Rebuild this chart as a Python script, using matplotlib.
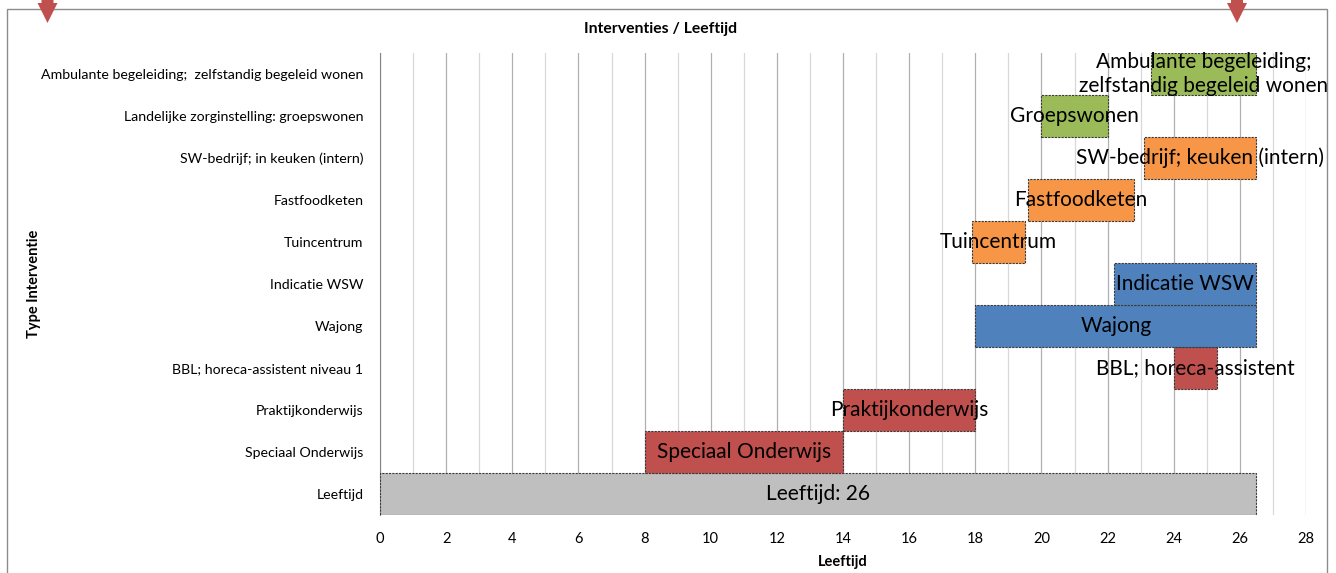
import matplotlib
matplotlib.use("Agg")
import matplotlib.pyplot as plt
from matplotlib.patches import Rectangle, Polygon

plt.rcParams['font.family'] = ['Lato', 'DejaVu Sans']

# interventies, van onder naar boven
categories = ['Leeftijd', 'Speciaal Onderwijs', 'Praktijkonderwijs',
              'BBL; horeca-assistent niveau 1', 'Wajong', 'Indicatie WSW',
              'Tuincentrum', 'Fastfoodketen', 'SW-bedrijf; in keuken (intern)',
              'Landelijke zorginstelling: groepswonen',
              'Ambulante begeleiding;  zelfstandig begeleid wonen']
start = [0, 8, 14, 24, 18, 22.2, 17.9, 19.6, 23.1, 20, 23.3]
end = [26.5, 14, 18, 25.3, 26.5, 26.5, 19.5, 22.8, 26.5, 22, 26.5]
bar_labels = ['Leeftijd: 26', 'Speciaal Onderwijs', 'Praktijkonderwijs',
              'BBL; horeca-assistent', 'Wajong', 'Indicatie WSW',
              'Tuincentrum', 'Fastfoodketen', 'SW-bedrijf; keuken (intern)',
              'Groepswonen', 'Ambulante begeleiding;\nzelfstandig begeleid wonen']
colors = ['#bfbfbf', '#c0504d', '#c0504d', '#c0504d', '#4f81bd', '#4f81bd',
          '#f79646', '#f79646', '#f79646', '#9bbb59', '#9bbb59']

fig = plt.figure(figsize=(13.36, 5.73), dpi=100)
ax = fig.add_axes([380/1336, 1-515/573, 926/1336, 462/573])

widths = [e - s for s, e in zip(start, end)]
ypos = list(range(len(categories)))
ax.barh(ypos, widths, left=start, height=1.0, color=colors,
        edgecolor='#3a3a3a', linewidth=0.8, linestyle=(0, (2, 1)), zorder=3)

for y, s, w, lab in zip(ypos, start, widths, bar_labels):
    ax.text(s + w/2, y, lab, ha='center', va='center', fontsize=15,
            color='black', zorder=4, linespacing=1.28)

ax.set_xlim(0, 28)
ax.set_ylim(-0.5, len(categories) - 0.5)
ax.set_xticks(range(0, 29, 2))
ax.set_xticks(range(1, 28, 2), minor=True)
ax.set_yticks(ypos)
ax.set_yticklabels(categories, fontsize=10.2)
ax.tick_params(axis='both', length=0, which='both')
ax.tick_params(axis='x', labelsize=10.5, pad=12)
ax.tick_params(axis='y', pad=12)

ax.grid(axis='x', which='major', color='#b0b0b0', linewidth=0.9, zorder=0)
ax.grid(axis='x', which='minor', color='#d8d8d8', linewidth=0.9, zorder=0)
ax.set_axisbelow(True)

for side in ['top', 'right', 'bottom']:
    ax.spines[side].set_visible(False)
ax.spines['left'].set_color('#868686')

ax.set_xlabel('Leeftijd', fontsize=10.5, fontweight='bold', labelpad=7)
ax.set_ylabel('Type Interventie', fontsize=10.5, fontweight='bold')
ax.yaxis.set_label_coords(-0.366, 0.5)
fig.text(661/1336, 1-29/573, 'Interventies / Leeftijd', ha='center', va='center',
         fontsize=11.3, fontweight='bold')

# kader rond de grafiek
fig.patches.append(Rectangle((7/1336, -0.05), 1320/1336, 1.05 - 9/573,
                             transform=fig.transFigure, fill=False,
                             edgecolor='#8c8c8c', linewidth=1.0))

# rode pijlen bovenaan
for cx in [47.5, 1237]:
    pts = [(cx - 6, 573), (cx + 6, 573), (cx + 6, 570), (cx + 10, 570),
           (cx, 550), (cx - 10, 570), (cx - 6, 570)]
    fig.patches.append(Polygon([(x/1336, y/573) for x, y in pts],
                               closed=True, transform=fig.transFigure,
                               facecolor='#c0504d', edgecolor='none'))

fig.savefig('out.png', dpi=100)
